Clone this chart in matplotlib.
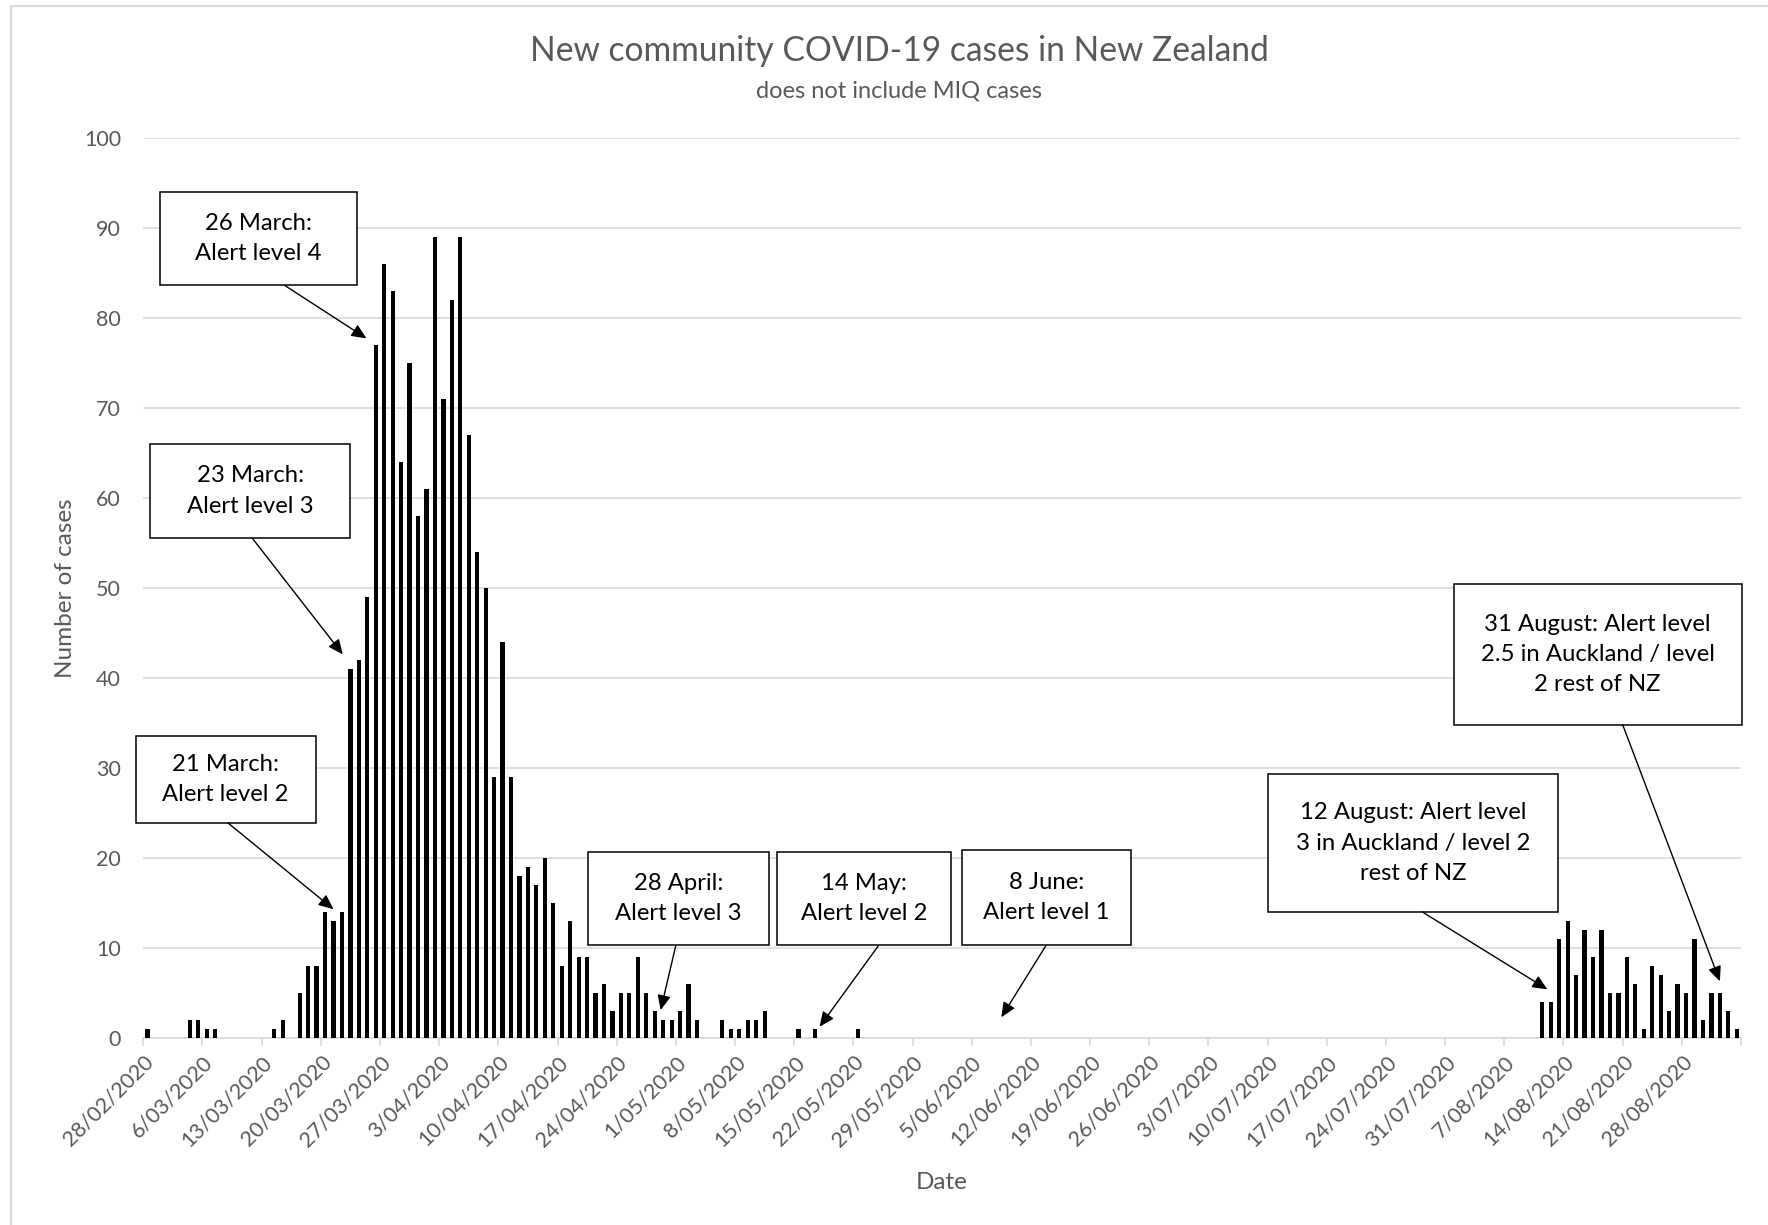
import matplotlib
matplotlib.use("Agg")
import matplotlib.pyplot as plt
import matplotlib.dates as mdates
from matplotlib.patches import Rectangle
from matplotlib.lines import Line2D
import numpy as np
import pandas as pd

plt.rcParams['font.family'] = ['Lato', 'DejaVu Sans']

# ---------------- data ----------------
start_date = "2020-02-28"
end_date = "2020-09-03"

cases_feb = [1, 0]
cases_mar = [0, 0, 0, 2, 2, 1, 1, 0, 0, 0, 0, 0, 0, 1, 2, 0, 5, 8, 8, 14,
             13, 14, 41, 42, 49, 77, 86, 83, 64, 75, 58]
cases_apr = [61, 89, 71, 82, 89, 67, 54, 50, 29, 44, 29, 18, 19, 17, 20,
             15, 8, 13, 9, 9, 5, 6, 3, 5, 5, 9, 5, 3, 2, 2]
cases_may = [3, 6, 2, 0, 0, 2, 1, 1, 2, 2, 3, 0, 0, 0, 1, 0, 1, 0, 0, 0,
             0, 1, 0, 0, 0, 0, 0, 0, 0, 0, 0]
cases_jun = [0] * 30
cases_jul = [0] * 31
cases_aug = [0, 0, 0, 0, 0, 0, 0, 0, 0, 0, 4, 4, 11, 13, 7, 12, 9, 12, 5, 5,
             9, 6, 1, 8, 7, 3, 6, 5, 11, 2, 5]
cases_sep = [5, 3, 1]

annotation_texts = [
    "26 March:\nAlert level 4",
    "23 March:\nAlert level 3",
    "21 March:\nAlert level 2",
    "28 April:\nAlert level 3",
    "14 May:\nAlert level 2",
    "8 June:\nAlert level 1",
    "12 August: Alert level\n3 in Auckland / level 2\nrest of NZ",
    "31 August: Alert level\n2.5 in Auckland / level\n2 rest of NZ",
]

title = "New community COVID-19 cases in New Zealand"
subtitle = "does not include MIQ cases"
x_label = "Date"
y_label = "Number of cases"

# ---------------- build ----------------
cases = (cases_feb + cases_mar + cases_apr + cases_may + cases_jun
         + cases_jul + cases_aug + cases_sep)
dates = pd.date_range(start_date, end_date, freq="D")
assert len(dates) == len(cases)
x_num = mdates.date2num(dates.to_pydatetime())

fig = plt.figure(figsize=(17.68, 12.25), dpi=100)
ax = fig.add_axes([143.3 / 1768, 1 - 1038 / 1225, (1741 - 143.3) / 1768,
                   (1038 - 137.6) / 1225])

grid_c = "#d9d9d9"
text_c = "#595959"

ax.bar(x_num + 0.5, cases, width=0.5, color="black", zorder=3)

x0 = x_num[0]
x1 = x_num[-1] + 1
ax.set_xlim(x0, x1)
ax.set_ylim(0, 100)

week_ticks = np.arange(x0, x1 + 0.1, 7)
ax.set_xticks(week_ticks)
tick_labels = []
for t in week_ticks[:-1]:
    d = mdates.num2date(t)
    tick_labels.append(f"{d.day}/{d.month:02d}/{d.year}")
tick_labels.append("")
ax.set_xticklabels(tick_labels, rotation=45, ha="right", va="top",
                   rotation_mode="anchor", fontsize=15.5, color=text_c)
ax.tick_params(axis="x", length=6, width=1.2, color=grid_c, pad=4)

ax.set_yticks(np.arange(0, 101, 10))
ax.tick_params(axis="y", length=0, pad=16, labelsize=15.5, labelcolor=text_c)
ax.yaxis.grid(True, color=grid_c, linewidth=1.2, zorder=0)
ax.set_axisbelow(True)

for s in ["top", "right", "left"]:
    ax.spines[s].set_visible(False)
ax.spines["bottom"].set_color(grid_c)
ax.spines["bottom"].set_linewidth(1.2)

ax.set_xlabel(x_label, fontsize=17.5, color=text_c, labelpad=16)
ax.set_ylabel(y_label, fontsize=17.5, color=text_c, labelpad=6)

fig.text(899 / 1768, 1 - 51 / 1225, title, ha="center", va="center",
         fontsize=24.2, color=text_c)
fig.text(899 / 1768, 1 - 91 / 1225, subtitle, ha="center", va="center",
         fontsize=17, color=text_c)

# chart-area border (left and top visible)
fig.add_artist(Line2D([11 / 1768, 11 / 1768], [0, 1 - 6 / 1225],
                      transform=fig.transFigure, color=grid_c, lw=1.5))
fig.add_artist(Line2D([11 / 1768, 1], [1 - 6 / 1225, 1 - 6 / 1225],
                      transform=fig.transFigure, color=grid_c, lw=1.5))

# ---------------- annotations (layout in day offsets / case units) -------
# box: (left_day, right_day, bottom, top); arrow: (start_day, start_y, tip_day, tip_y)
boxes = [
    (2.0, 25.3, 83.6, 94.0),
    (0.8, 24.5, 55.5, 66.0),
    (-0.9, 20.4, 23.9, 33.5),
    (52.6, 74.0, 10.3, 20.7),
    (75.0, 95.6, 10.3, 20.7),
    (96.8, 116.8, 10.3, 20.9),
    (133.1, 167.4, 14.0, 29.3),
    (155.0, 189.1, 34.8, 50.4),
]
arrows = [
    (16.7, 83.6, 26.4, 77.7),
    (12.9, 55.5, 23.6, 42.6),
    (10.0, 23.9, 22.5, 14.3),
    (63.0, 10.3, 61.2, 3.1),
    (87.0, 10.3, 80.0, 1.25),
    (106.8, 10.3, 101.5, 2.3),
    (151.3, 14.0, 166.1, 5.4),
    (175.0, 34.8, 186.5, 6.3),
]

for txt, (l, r, b, t), (sx, sy, tx, ty) in zip(annotation_texts, boxes, arrows):
    rect = Rectangle((x0 + l, b), r - l, t - b, facecolor="white",
                     edgecolor="black", linewidth=1.1, zorder=5, clip_on=False)
    ax.add_patch(rect)
    ax.text(x0 + (l + r) / 2, (b + t) / 2, txt, ha="center", va="center",
            fontsize=17.2, color="black", linespacing=1.55, zorder=6)
    ax.annotate("", xy=(x0 + tx, ty), xytext=(x0 + sx, sy),
                arrowprops=dict(arrowstyle="-|>,head_length=0.9,head_width=0.4",
                                color="black", lw=1.0, shrinkA=0, shrinkB=0),
                zorder=6)

fig.savefig("out.png", dpi=100, facecolor="white")
